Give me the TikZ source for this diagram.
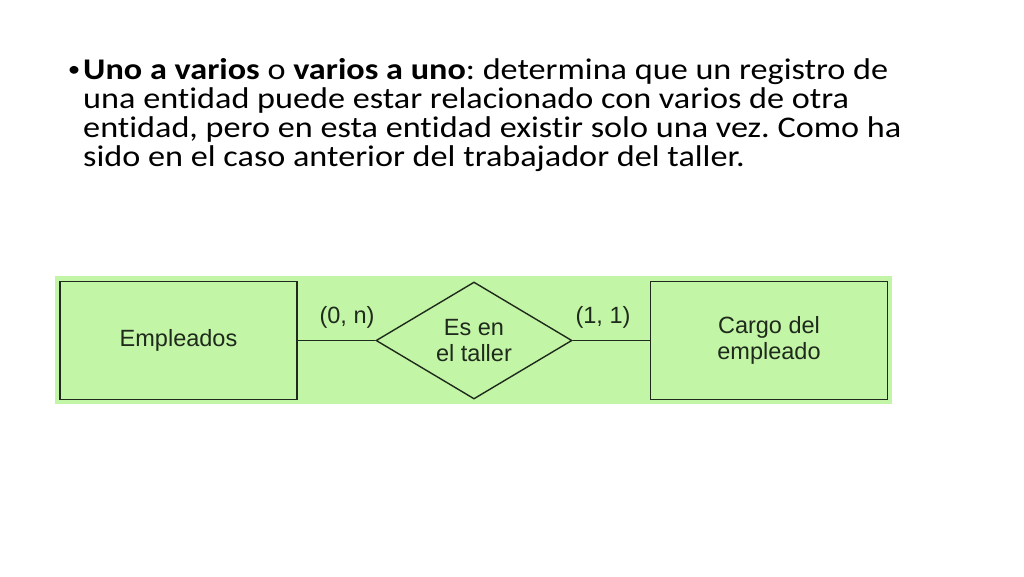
\documentclass[tikz,border=0pt]{standalone}
\usepackage{fontspec}
\setmainfont{Carlito}[Ligatures={NoCommon}]
\newfontfamily\arialf{Liberation Sans}
\usetikzlibrary{shapes.geometric}
\definecolor{bggreen}{HTML}{C3F5A6}
\definecolor{inkc}{HTML}{1E2A1C}
\tikzset{
  entity/.style={draw=inkc, line width=1.4pt, fill=bggreen, minimum width=237pt, minimum height=118pt, inner sep=0pt, font=\arialf\fontsize{23.5}{26}\selectfont, text=inkc, align=center},
  rel/.style={draw=inkc, line width=1.4pt, diamond, aspect=1.68, minimum width=196pt, minimum height=117pt, inner sep=0pt, font=\arialf\fontsize{23.5}{26}\selectfont, text=inkc, align=center},
  card/.style={font=\arialf\fontsize{23.5}{26}\selectfont, text=inkc, inner sep=0pt},
  conn/.style={draw=inkc, line width=1.4pt},
  bline/.style={anchor=base west, inner sep=0pt, xscale=1.14, font=\fontsize{30}{29}\selectfont\frenchspacing}
}
\begin{document}
\begin{tikzpicture}[x=1pt,y=-1pt]
\useasboundingbox (0,0) rectangle (1024,576);
\fill[white] (0,0) rectangle (1024,576);
% bullet text
\node[bline, anchor=base, font=\fontsize{22}{29}\selectfont] (bul) at (74,76) {•};
\node[bline] (l1) at (83,79) {\textbf{Uno a varios} o \textbf{varios a uno}: determina que un registro de};
\node[bline] (l2) at (83,108) {una entidad puede estar relacionado con varios de otra};
\node[bline] (l3) at (83,137) {entidad, pero en esta entidad existir solo una vez. Como ha};
\node[bline] (l4) at (83,166) {sido en el caso anterior del trabajador del taller.};
% green background
\fill[bggreen] (55,276) rectangle (892,404);
\node[entity] (emp) at (178.5,340.5) {Empleados};
\node[rel] (es) at (474,340.5) {Es en\\el taller};
\node[entity] (cargo) at (769,340.5) {Cargo del\\empleado};
\draw[conn] (emp.east) -- (es.west);
\draw[conn] (es.east) -- (cargo.west);
\node[card] (c1) at (347,317) {(0, n)};
\node[card] (c2) at (603,317) {(1, 1)};
\end{tikzpicture}
\end{document}
